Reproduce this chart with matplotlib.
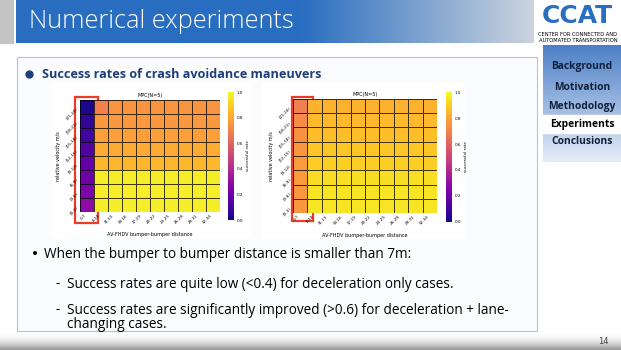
import numpy as np
import matplotlib
matplotlib.use("Agg")
import matplotlib.pyplot as plt
from matplotlib.patches import Rectangle

# ---- data ----
dist_labels = ["0-7", "8-10", "11-13", "14-16", "17-19", "20-22", "23-25", "26-28", "29-31", "32-34"]
vel_labels = ["[21-24)", "[18-21)", "[15-18)", "[12-15)", "[9-12)", "[6-9)", "[3-6)", "[0-3)"]

# deceleration only (rows top->bottom, columns left->right)
decel_first_col = [0.02, 0.07, 0.10, 0.14, 0.18, 0.21, 0.25, 0.29]
decel_row_rate = [0.75, 0.76, 0.78, 0.81, 0.84, 0.97, 0.97, 0.97]
decel_first_row_col1 = 0.69

# deceleration + lane change
lane_first_col = [0.68, 0.72, 0.74, 0.76, 0.77, 0.77, 0.76, 0.76]
lane_row_rate = [0.83, 0.85, 0.86, 0.88, 0.90, 0.93, 0.95, 0.95]

sidebar_items = ["Background", "Motivation", "Methodology", "Experiments", "Conclusions"]

W, H = 621, 350
fig = plt.figure(figsize=(W / 100, H / 100), dpi=100)
fig.patch.set_facecolor("white")

bg = fig.add_axes([0, 0, 1, 1])
bg.set_xlim(0, W)
bg.set_ylim(H, 0)
bg.axis("off")


def px(x, y, w, h):
    return [x / W, 1 - (y + h) / H, w / W, h / H]


# title bar with gradient
grad = np.linspace(0, 1, 256)
c1 = np.array([0.16, 0.43, 0.75])
c2 = np.array([0.80, 0.83, 0.87])
t = np.clip((grad - 0.55) / 0.45, 0, 1)[:, None]
row = c1 * (1 - t) + c2 * t
bg.imshow(row[None, :, :], extent=[16, 534, 43, 0], aspect="auto", zorder=1)
bg.add_patch(Rectangle((0, 0), 13, 43, color="#c4c4c4", zorder=1))
bg.text(29, 22, "Numerical experiments", color="white", fontsize=18.2, family="Open Sans",
        fontweight="light", va="center", ha="left", zorder=2)

# logo
bg.text(577, 16, "CCAT", color="#2a6ebf", fontsize=18, fontweight="bold", family="DejaVu Sans",
        ha="center", va="center", zorder=2)
bg.text(578, 35, "CENTER FOR CONNECTED AND", fontsize=3.7, ha="center", va="center", family="DejaVu Sans")
bg.text(578, 41, "AUTOMATED TRANSPORTATION", fontsize=3.7, ha="center", va="center", family="DejaVu Sans")

# bottom shadow
shade = np.linspace(0, 1, 64)
s1 = np.array([1.0, 1.0, 1.0])
s2 = np.array([0.58, 0.58, 0.58])
scol_b = s1 * (1 - shade[:, None] ** 2) + s2 * shade[:, None] ** 2
bg.imshow(scol_b[:, None, :], extent=[0, 621, 350, 332], aspect="auto", zorder=0)

# sidebar
side = np.linspace(0, 1, 256)
sc1 = np.array([0.30, 0.50, 0.78])
sc2 = np.array([0.90, 0.93, 0.97])
scol = sc1 * (1 - side[:, None]) + sc2 * side[:, None]
bg.imshow(scol[:, None, :], extent=[543, 621, 162, 45], aspect="auto", zorder=1)
bg.add_patch(Rectangle((543, 115), 78, 18, color="white", zorder=2))
for item, yy in zip(sidebar_items, [67, 88, 107, 125, 142]):
    bg.text(582, yy, item, fontsize=7.4, fontweight="bold", ha="center", va="center",
            color="black" if item == "Experiments" else "#10203a", family="Open Sans", zorder=3)

# content box
bg.add_patch(Rectangle((17, 57), 520, 274, facecolor="#fbfcfe", edgecolor="#b4c4d8", lw=0.8, zorder=1))
bg.plot(29, 74, "o", color="#1f3d7a", ms=5, zorder=3)
bg.text(42, 74, "Success rates of crash avoidance maneuvers", fontsize=9.1, fontweight="bold",
        color="#1f3d7a", family="Open Sans", va="center", ha="left", zorder=3)

# chart panels
bg.add_patch(Rectangle((52, 83), 198, 154, color="white", zorder=2))
bg.add_patch(Rectangle((262, 83), 202, 154, color="white", zorder=2))

# bullet text
fs = 9.8
bg.text(31, 254, "•", fontsize=fs, va="center", zorder=3)
bg.text(44, 254, "When the bumper to bumper distance is smaller than 7m:", fontsize=fs,
        family="Open Sans", va="center", zorder=3)
bg.text(55, 284, "-", fontsize=fs, family="Open Sans", va="center", zorder=3)
bg.text(67, 284, "Success rates are quite low (<0.4) for deceleration only cases.", fontsize=fs,
        family="Open Sans", va="center", zorder=3)
bg.text(55, 310, "-", fontsize=fs, family="Open Sans", va="center", zorder=3)
bg.text(67, 310, "Success rates are significantly improved (>0.6) for deceleration + lane-",
        fontsize=fs, family="Open Sans", va="center", zorder=3)
bg.text(67, 325, "changing cases.", fontsize=fs, family="Open Sans", va="center", zorder=3)
bg.text(603, 341, "14", fontsize=6, color="#444444", ha="center", va="center", zorder=3)


def build(first_col, row_rate, first_row_col1=None):
    m = np.array([[r] * len(dist_labels) for r in row_rate], dtype=float)
    m[:, 0] = first_col
    if first_row_col1 is not None:
        m[0, 1] = first_row_col1
    return m


def heatmap(box, cbox, data, rect):
    ax = fig.add_axes(px(*box))
    mesh = ax.pcolormesh(data, cmap="plasma", vmin=0, vmax=1, edgecolors=(0, 0, 0, 0.75), linewidth=0.7)
    ax.set_ylim(len(vel_labels), 0)
    ax.set_xticks(np.arange(len(dist_labels)) + 0.5)
    ax.set_xticklabels(dist_labels, rotation=45, fontsize=3, ha="right")
    ax.set_yticks(np.arange(len(vel_labels)) + 0.5)
    ax.set_yticklabels(vel_labels, rotation=45, fontsize=3, va="top")
    ax.tick_params(length=0, pad=1)
    for s in ax.spines.values():
        s.set_visible(False)
    ax.set_title("MPC(N=5)", fontsize=3.5, pad=2)
    ax.set_xlabel("AV-FHDV bumper-bumper distance", fontsize=3.5, labelpad=5)
    ax.set_ylabel("relative velocity m/s", fontsize=3.5, labelpad=3)
    cax = fig.add_axes(px(*cbox))
    cb = fig.colorbar(mesh, cax=cax)
    cb.outline.set_visible(False)
    cb.set_ticks([0, 0.2, 0.4, 0.6, 0.8, 1.0])
    cb.ax.tick_params(labelsize=3, length=0, pad=2)
    cb.set_label("successful rate", fontsize=3, labelpad=2)
    bg.add_patch(Rectangle(rect[:2], rect[2], rect[3], fill=False, edgecolor="#ee3b24", lw=1.6, zorder=10))


heatmap((80, 100, 140, 112), (228, 92, 6, 128), build(decel_first_col, decel_row_rate, decel_first_row_col1),
        (75, 97, 23, 126))
heatmap((293, 99, 144, 114), (446, 92, 6, 130), build(lane_first_col, lane_row_rate),
        (292, 97, 21, 124))

plt.savefig("out.png", dpi=100)
